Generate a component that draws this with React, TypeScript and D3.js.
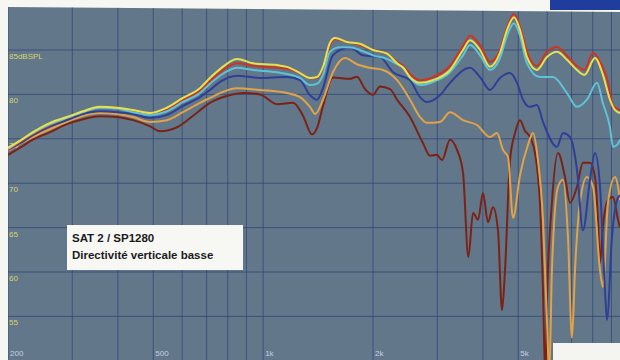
import React from "react";
import * as d3 from "d3";

const W = 620;
const H = 360;

// grid & tick values
const gridFreqs = [200, 300, 400, 500, 600, 700, 800, 900, 1000, 2000, 3000, 4000, 5000, 6000, 7000, 8000, 9000];
const gridDb = [55, 60, 65, 70, 75, 80, 85];
const dbTickValues = [85, 80, 75, 70, 65, 60, 55];
const dbTickLabels = ["85dBSPL", "80", "75", "70", "65", "60", "55"];
const freqTickValues = [200, 500, 1000, 2000, 5000];
const freqTickLabels = ["200", "500", "1k", "2k", "5k"];

const titleLines = ["SAT 2 / SP1280", "Directivité verticale basse"];

// measured responses [Hz, dB SPL]
const yellowResponse: [number, number][] = [
  [200, 74.0], [216, 74.8], [234, 75.75], [261, 76.8], [290, 77.45], [321, 78.1], [357, 78.6], [398, 78.5],
  [440, 78.25], [490, 77.9], [545, 78.5], [603, 79.6], [671, 80.7], [715, 81.85], [762, 82.85], [848, 84.0],
  [938, 83.5], [1092, 83.3], [1162, 83.1], [1262, 82.4], [1344, 81.85], [1405, 81.95], [1459, 83.1], [1524, 85.8],
  [1574, 86.35], [1698, 85.9], [1841, 85.7], [2000, 85.0], [2184, 84.6], [2328, 83.5], [2420, 83.0], [2526, 81.95],
  [2691, 81.3], [2918, 81.6], [3251, 82.75], [3529, 85.0], [3689, 86.1], [3929, 85.0], [4183, 83.1], [4457, 84.7],
  [4657, 87.25], [4868, 88.7], [5055, 87.25], [5282, 84.2], [5626, 82.75], [5992, 84.2], [6383, 84.8], [6799, 83.9],
  [7242, 82.75], [7600, 82.2], [8114, 84.1], [8530, 82.2], [8917, 79.4], [9205, 78.25], [9501, 77.9],
];

const redResponse: [number, number][] = [
  [200, 73.75], [216, 74.65], [234, 75.55], [261, 76.55], [290, 77.35], [321, 78.0], [357, 78.5], [398, 78.5],
  [440, 78.1], [490, 77.8], [545, 78.25], [603, 79.4], [671, 80.4], [715, 81.5], [762, 82.5], [848, 83.5],
  [938, 83.2], [1092, 83.0], [1162, 82.9], [1262, 82.4], [1344, 81.85], [1405, 81.85], [1459, 83.0], [1524, 85.55],
  [1574, 86.25], [1698, 85.9], [1841, 85.55], [2000, 85.0], [2184, 84.6], [2328, 83.65], [2420, 83.2], [2526, 82.3],
  [2691, 81.6], [2918, 81.95], [3251, 83.2], [3529, 85.45], [3689, 86.6], [3929, 85.55], [4183, 83.65], [4457, 85.0],
  [4657, 87.5], [4868, 89.05], [5055, 87.6], [5282, 84.8], [5626, 83.2], [5992, 84.8], [6383, 85.35], [6799, 84.35],
  [7242, 83.2], [7600, 82.75], [8013, 84.7], [8375, 83.65], [8750, 81.85], [9089, 78.7], [9501, 78.25],
];

const cyanResponse: [number, number][] = [
  [200, 73.85], [216, 74.8], [234, 75.65], [261, 76.65], [290, 77.35], [321, 78.0], [357, 78.5], [398, 78.4],
  [440, 78.0], [490, 77.7], [545, 78.1], [603, 79.15], [671, 80.15], [715, 81.2], [762, 82.1], [848, 83.0],
  [938, 82.75], [1092, 82.5], [1162, 82.3], [1262, 81.85], [1344, 81.05], [1405, 81.2], [1459, 82.2], [1524, 84.8],
  [1624, 85.3], [1730, 85.3], [1841, 85.0], [2000, 84.4], [2184, 84.0], [2328, 83.4], [2420, 83.0], [2526, 81.85],
  [2691, 81.05], [2918, 81.4], [3251, 82.5], [3529, 84.4], [3689, 85.55], [3929, 84.4], [4183, 82.75], [4457, 84.1],
  [4657, 86.6], [4868, 88.0], [5055, 86.6], [5282, 83.5], [5734, 81.95], [6222, 81.95], [6799, 80.15], [7242, 78.6],
  [7710, 79.4], [8217, 81.3], [8530, 79.0], [8917, 76.3], [9089, 74.1], [9322, 74.3], [9501, 74.9],
];

const blueResponse: [number, number][] = [
  [200, 73.75], [216, 74.5], [234, 75.4], [261, 76.4], [290, 77.1], [321, 77.8], [357, 78.1], [398, 78.0],
  [440, 77.8], [490, 77.35], [545, 77.7], [603, 78.7], [671, 79.7], [715, 80.5], [762, 81.4], [848, 82.1],
  [980, 81.85], [1162, 81.95], [1262, 81.6], [1344, 79.9], [1405, 79.4], [1459, 80.7], [1553, 84.4], [1730, 85.3],
  [1878, 84.4], [2090, 84.2], [2270, 82.5], [2526, 81.6], [2691, 79.7], [2812, 79.15], [3052, 79.9], [3251, 81.3],
  [3689, 83.0], [3929, 81.95], [4183, 80.5], [4457, 81.85], [4746, 82.4], [4961, 81.3], [5152, 79.4], [5383, 78.6],
  [5626, 78.8], [5844, 76.9], [6383, 74.1], [6629, 75.65], [6930, 75.2], [7242, 71.5], [7521, 64.7], [7863, 70.4],
  [8114, 73.4], [8375, 69.6], [8640, 58.0], [8750, 54.6], [9032, 63.95], [9322, 68.1], [9501, 68.65],
];

const orangeResponse: [number, number][] = [
  [200, 73.65], [216, 74.45], [234, 75.2], [261, 76.1], [290, 76.9], [321, 77.6], [357, 77.9], [398, 77.8],
  [440, 77.45], [490, 76.9], [545, 77.1], [603, 78.0], [671, 79.05], [715, 79.6], [762, 80.15], [848, 80.7],
  [980, 80.5], [1162, 80.15], [1262, 79.7], [1344, 78.6], [1390, 77.8], [1459, 79.4], [1553, 82.5], [1676, 84.1],
  [1807, 83.4], [1962, 83.0], [2130, 82.75], [2328, 81.6], [2526, 79.4], [2691, 77.45], [2812, 76.8], [3052, 76.9],
  [3251, 78.0], [3529, 77.1], [3855, 76.55], [4183, 75.2], [4372, 75.65], [4541, 73.75], [4688, 72.95], [4838, 66.1],
  [5055, 70.9], [5315, 74.3], [5487, 75.65], [5662, 72.6], [5844, 65.9], [5992, 54.6], [6080, 48.5], [6183, 60.2],
  [6424, 69.6], [6629, 70.4], [6842, 63.95], [7017, 52.6], [7151, 60.2], [7380, 67.8], [7710, 70.7], [8013, 69.6],
  [8375, 60.2], [8530, 58.3], [8806, 67.8], [9205, 70.7], [9501, 68.1],
];

const brownResponse: [number, number][] = [
  [200, 73.2], [216, 74.0], [234, 74.9], [261, 75.75], [290, 76.65], [321, 77.2], [357, 77.55], [398, 77.45],
  [440, 77.1], [490, 76.4], [522, 75.85], [581, 76.3], [643, 77.6], [715, 79.05], [800, 79.85], [881, 80.15],
  [980, 80.0], [1092, 78.9], [1208, 79.05], [1286, 77.6], [1361, 75.5], [1405, 76.2], [1459, 78.7], [1553, 81.9],
  [1730, 81.75], [1807, 82.0], [1902, 80.6], [2000, 79.95], [2090, 80.9], [2227, 80.6], [2328, 79.4], [2526, 77.45],
  [2742, 74.5], [2865, 73.1], [2993, 73.2], [3091, 72.6], [3251, 74.9], [3398, 73.75], [3529, 71.15], [3650, 61.7],
  [3759, 66.65], [3880, 65.9], [4003, 68.9], [4131, 65.6], [4264, 67.3], [4400, 64.7], [4513, 55.7], [4599, 60.2],
  [4746, 72.6], [4899, 75.65], [5055, 77.1], [5216, 75.9], [5383, 75.2], [5556, 73.4], [5734, 67.8], [5844, 58.0],
  [5930, 48.0], [5992, 56.5], [6183, 67.8], [6424, 73.4], [6714, 70.7], [6930, 67.8], [7242, 69.6], [7521, 72.3],
  [7863, 72.3], [8114, 70.7], [8268, 65.9], [8375, 61.0], [8530, 65.1], [8806, 68.1], [9089, 68.45], [9380, 65.9],
  [9501, 65.0],
];

const seriesList = [
  { name: "brown", data: brownResponse, color: "#7c2214" },
  { name: "orange", data: orangeResponse, color: "#e2a347" },
  { name: "blue", data: blueResponse, color: "#2f3f98" },
  { name: "red", data: redResponse, color: "#cf3420" },
  { name: "cyan", data: cyanResponse, color: "#5cc4d6" },
  { name: "yellow", data: yellowResponse, color: "#e6e24e" },
];

export default function App() {
  const x = d3.scaleLog().domain([200, 9500]).range([8, 620]);
  const y = d3.scaleLinear().domain([85, 55]).range([50, 316.4]);

  const line = d3
    .line<[number, number]>()
    .x((d) => x(d[0]))
    .y((d) => y(d[1]))
    .curve(d3.curveMonotoneX);

  const plotPoly = "8,7 620,12 620,360 8,360";

  return (
    <svg
      width={W}
      height={H}
      style={{ position: "absolute", left: 0, top: 0, background: "#f6f6f2" }}
      fontFamily="'Liberation Sans', Arial, sans-serif"
    >
      <defs>
        <clipPath id="plotClip">
          <polygon points={plotPoly} />
        </clipPath>
      </defs>
      <polygon points={plotPoly} fill="#62778a" />
      <g clipPath="url(#plotClip)">
        {gridFreqs.map((f) => (
          <line key={"vf" + f} x1={x(f)} x2={x(f)} y1={0} y2={H} stroke="#2e4378" strokeWidth={1} opacity={0.7} />
        ))}
        {gridDb.map((v) => (
          <line key={"hd" + v} x1={0} x2={W} y1={y(v)} y2={y(v)} stroke="#2e4378" strokeWidth={1} opacity={0.7} />
        ))}
        {dbTickValues.map((v, i) => (
          <text key={"yl" + v} x={9} y={y(v) + 9} fontSize={8} fill="#d8d46c">
            {dbTickLabels[i]}
          </text>
        ))}
        {freqTickValues.map((f, i) => (
          <text key={"xl" + f} x={x(f) + 2} y={356} fontSize={8} fill="#c9cdea">
            {freqTickLabels[i]}
          </text>
        ))}
        {seriesList.map((s) => (
          <path
            key={s.name}
            d={line(s.data) || ""}
            fill="none"
            stroke={s.color}
            strokeWidth={2}
            strokeLinejoin="round"
          />
        ))}
      </g>
      {/* title box */}
      <rect x={67} y={225} width={176} height={45} fill="#f7f7f4" />
      <text x={72} y={242} fontSize={11.5} fontWeight="bold" fill="#1b1b1b">
        {titleLines[0]}
      </text>
      <text x={72} y={259} fontSize={11.5} fontWeight="bold" fill="#1b1b1b">
        {titleLines[1]}
      </text>
      {/* page decorations */}
      <rect x={550} y={0} width={70} height={10} fill="#1f3d9c" />
      <rect x={553} y={343} width={67} height={17} fill="#f4f4f0" />
    </svg>
  );
}
